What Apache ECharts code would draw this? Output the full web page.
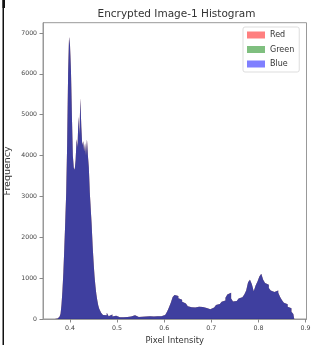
<!DOCTYPE html>
<html>
<head>
<meta charset="utf-8">
<script src="https://cdn.jsdelivr.net/npm/echarts@6/dist/echarts.min.js"></script>
<style>
html,body{margin:0;padding:0;background:#fff;}
#chart{width:322px;height:345px;}
</style>
</head>
<body>
<div id="chart"></div>
<script>
// Bin left edges (pixel intensity) and counts
const intensity = [
0.368,0.370,0.372,0.374,0.376,0.378,0.380,0.382,0.384,0.386,
0.388,0.390,0.392,0.394,0.396,0.398,0.400,0.402,0.404,0.406,
0.408,0.410,0.412,0.414,0.416,0.418,0.420,0.422,0.424,0.426,
0.428,0.430,0.432,0.434,0.436,0.438,0.440,0.442,0.444,0.446,
0.448,0.450,0.452,0.454,0.456,0.458,0.460,0.462,0.464,0.466,
0.468,
0.470,0.474,0.478,0.482,0.486,0.490,0.494,0.498,0.502,0.506,
0.510,0.514,0.518,0.522,0.526,0.530,0.534,0.538,0.542,0.546,
0.550,0.554,0.558,0.562,0.566,0.570,0.574,0.578,0.582,0.586,
0.590,0.594,0.598,0.602,
0.606,0.610,0.614,0.618,0.622,0.626,0.630,0.634,0.638,0.642,
0.646,0.650,0.654,0.658,0.662,0.666,0.670,0.674,0.678,0.682,
0.686,0.690,0.694,0.698,0.702,0.706,0.710,0.714,0.718,0.722,
0.726,0.730,0.734,0.738,0.742,0.746,0.750,0.754,0.758,0.762,
0.766,0.770,0.774,0.778,0.782,0.786,0.790,0.794,0.798,0.802,
0.806,0.810,0.814,0.818,0.822,0.826,0.830,0.834,0.838,0.842,
0.846,0.850,0.854,0.858,0.862,0.866,0.870,0.874,
0.876
];
const frequency = [
3,6,10,18,30,60,130,350,700,1150,
1750,2400,3100,4300,6000,6900,6700,6100,5000,4000,
3700,3650,3900,4400,4200,4950,4500,5400,4700,4250,
4350,4100,4300,4000,4400,4000,3700,3100,2700,2300,
1800,1400,1050,800,600,450,330,250,200,150,
120,
100,90,150,70,110,60,80,50,40,60,
45,70,50,80,60,50,90,60,50,70,
55,45,60,50,70,55,60,50,65,60,
70,80,100,130,
180,280,400,540,590,560,510,470,420,380,
340,310,290,300,280,290,300,290,295,280,
270,250,240,230,280,320,340,370,380,420,
450,520,600,640,500,430,440,480,500,530,
570,600,700,900,960,850,680,820,920,1040,
1110,960,880,840,760,700,660,680,700,640,
540,460,400,360,300,260,180,120,
0
];
const seriesNames = ['Red','Green','Blue'];
const seriesColors = ['rgba(255,0,0,0.5)','rgba(0,128,0,0.5)','rgba(0,0,255,0.5)'];
const xTicks = [0.4,0.5,0.6,0.7,0.8,0.9];
const yTicks = [0,1000,2000,3000,4000,5000,6000,7000];

const pts = intensity.map((x,i)=>[x,frequency[i]]);
const chart = echarts.init(document.getElementById('chart'), null, {renderer:'canvas'});
const font = 'DejaVu Sans';
chart.setOption({
  animation:false,
  backgroundColor:'#fff',
  graphic:[
    {type:'rect', shape:{x:2.5,y:0,width:1.5,height:345}, style:{fill:'#111'}},
    {type:'rect', shape:{x:2.5,y:0,width:2.5,height:8}, style:{fill:'#111'}},
    {type:'text', x:176.5, y:14, style:{text:'Encrypted Image-1 Histogram', fontFamily:font, fontSize:10.5, fill:'#333', textAlign:'center', textVerticalAlign:'middle'}}
  ],
  grid:{left:43, right:15.5, top:22.7, bottom:26, outerBoundsMode:'none', containLabel:false, show:true, borderColor:'#999', borderWidth:1, backgroundColor:'transparent'},
  legend:{
    orient:'vertical', left:243, top:27, icon:'rect', itemWidth:18, itemHeight:7, itemGap:6.5,
    padding:[4,5,4,4], borderColor:'#ddd', borderWidth:1, borderRadius:2, backgroundColor:'#fff',
    textStyle:{fontFamily:font, fontSize:8, color:'#333'},
    data: seriesNames.map((n,i)=>({name:n, icon:'rect', itemStyle:{color:seriesColors[i], borderWidth:0}}))
  },
  xAxis:{
    type:'value', min:0.3427, max:0.902,
    name:'Pixel Intensity', nameLocation:'middle', nameGap:17.5, nameMoveOverlap:false,
    nameTextStyle:{fontFamily:font, fontSize:8.4, color:'#333'},
    axisLine:{show:true, lineStyle:{color:'#999', width:1}},
    axisTick:{show:true, length:3.5, customValues:xTicks, lineStyle:{color:'#888'}},
    axisLabel:{customValues:xTicks, margin:6, fontFamily:font, fontSize:6.3, color:'#444', formatter:v=>Number(v).toFixed(1)},
    splitLine:{show:false}
  },
  yAxis:{
    type:'value', min:0, max:7250,
    name:'Frequency', nameLocation:'middle', nameGap:30, nameMoveOverlap:false,
    nameTextStyle:{fontFamily:font, fontSize:9.5, color:'#333'},
    axisLine:{show:true, lineStyle:{color:'#999', width:1}},
    axisTick:{show:true, length:3.5, customValues:yTicks, lineStyle:{color:'#888'}},
    axisLabel:{customValues:yTicks, margin:6, fontFamily:font, fontSize:6.2, color:'#444', formatter:v=>String(v)},
    splitLine:{show:false}
  },
  series: seriesNames.map((n,i)=>({
    name:n, type:'line', step:'end', showSymbol:false, symbol:'none',
    color:seriesColors[i],
    lineStyle:{width:0, opacity:0},
    areaStyle:{color:seriesColors[i], opacity:1, origin:'start'},
    data:pts
  }))
});
</script>
</body>
</html>
